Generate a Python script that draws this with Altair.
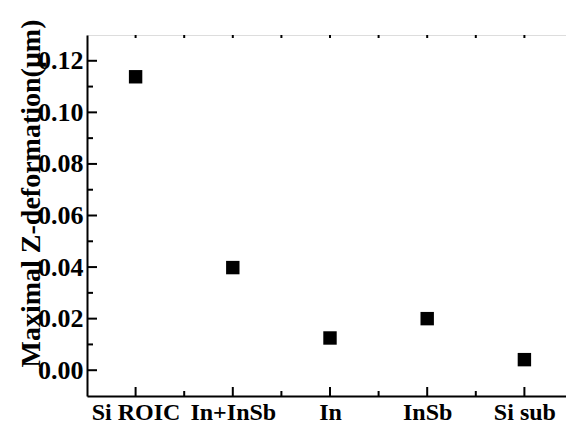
import json
import altair as alt
import pandas as pd

categories = ["Si ROIC", "In+InSb", "In", "InSb", "Si sub"]
values = [0.1138, 0.0398, 0.0125, 0.0200, 0.0041]
x_major = [1, 2, 3, 4, 5]
x_minor = [1.5, 2.5, 3.5, 4.5]
y_major = [0.0, 0.02, 0.04, 0.06, 0.08, 0.10, 0.12]
y_minor = [0.01, 0.03, 0.05, 0.07, 0.09, 0.11]

FONT = "Liberation Serif"
x_dom = [0.5, 5.428]
y_dom = [-0.01, 0.13]

df = pd.DataFrame({"idx": list(range(1, len(categories) + 1)), "cat": categories, "val": values})

label_expr = json.dumps(categories) + "[datum.value - 1]"

xs = alt.Scale(domain=x_dom, nice=False, zero=False)
ys = alt.Scale(domain=y_dom, nice=False, zero=False)

points = alt.Chart(df).mark_square(size=180, color="black", opacity=1, filled=True).encode(
    x=alt.X("idx:Q", scale=xs, axis=alt.Axis(
        values=x_major, labelExpr=label_expr, title=None, ticks=False, grid=False,
        domainColor="black", domainWidth=2, labelFont=FONT, labelFontWeight="bold",
        labelFontSize=24, labelColor="black", labelPadding=4)),
    y=alt.Y("val:Q", scale=ys, axis=alt.Axis(
        values=y_major, format=".2f", title="Maximal Z-deformation(μm)", ticks=False, grid=False,
        domainColor="black", domainWidth=2, labelFont=FONT, labelFontWeight="bold",
        labelFontSize=26, labelColor="black", labelPadding=4,
        titleFont=FONT, titleFontWeight="bold", titleFontSize=28, titleColor="black",
        titleAngle=-90, titleAlign="center", titleBaseline="alphabetic",
        titleX=-48, titleY=158)),
)


def xticks(vals, length, where, direction):
    d = pd.DataFrame({"t": vals})
    return alt.Chart(d).mark_rule(color="black", strokeWidth=2, y2Offset=direction * length).encode(
        x=alt.X("t:Q", scale=xs), y=alt.YDatum(where), y2=alt.Y2Datum(where))


def yticks(vals, length, where, direction):
    d = pd.DataFrame({"t": vals})
    return alt.Chart(d).mark_rule(color="black", strokeWidth=2, x2Offset=direction * length).encode(
        y=alt.Y("t:Q", scale=ys), x=alt.XDatum(where), x2=alt.X2Datum(where))


chart = alt.layer(
    points,
    xticks(x_major, 9, y_dom[0], -1),
    xticks(x_minor, 5, y_dom[0], -1),
    xticks(x_major + x_minor, 3, y_dom[1], 1),
    yticks(y_major, 10, x_dom[0], 1),
    yticks(y_minor, 6, x_dom[0], 1),
).properties(
    width=479, height=361,
    autosize=alt.AutoSizeParams(type="none"),
    padding={"left": 79, "top": 27, "right": 0, "bottom": 30},
).configure_view(stroke="black", strokeWidth=2).configure(background="white")

chart.save("out.html", embed_options={"renderer": "svg", "actions": False})
